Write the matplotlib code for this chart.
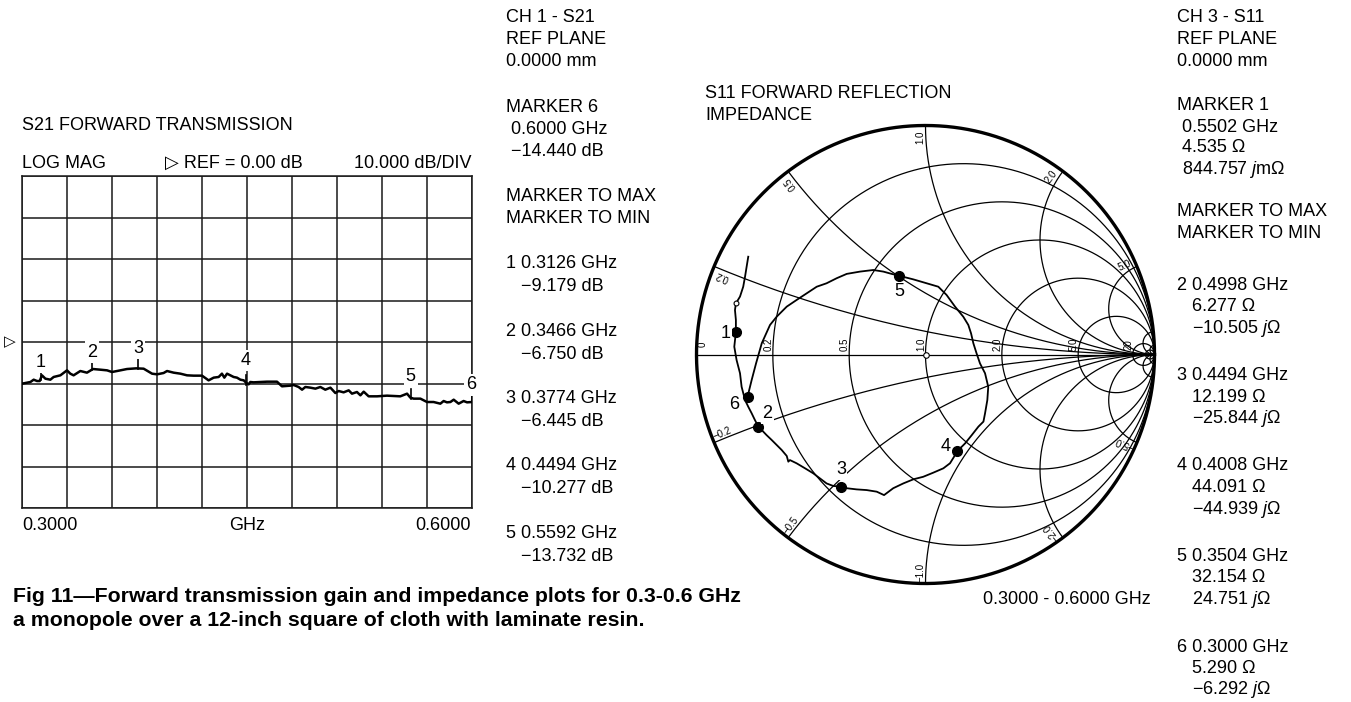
import numpy as np
import matplotlib.pyplot as plt

plt.rcParams['font.family'] = ['Liberation Sans', 'DejaVu Sans']
plt.rcParams['mathtext.fontset'] = 'custom'
plt.rcParams['mathtext.rm'] = 'Liberation Sans'
plt.rcParams['mathtext.it'] = 'Liberation Sans:italic'

# S21 forward transmission trace (GHz, dB)
freq = [0.3000, 0.3056, 0.3078, 0.3100, 0.3118, 0.3133, 0.3156, 0.3189, 0.3211, 0.3256,
        0.3300, 0.3322, 0.3344, 0.3389, 0.3433, 0.3473, 0.3522, 0.3567, 0.3600, 0.3656,
        0.3700, 0.3762, 0.3811, 0.3867, 0.3900, 0.3944, 0.3967, 0.4011, 0.4056, 0.4100,
        0.4144, 0.4200, 0.4244, 0.4278, 0.4311, 0.4333, 0.4349, 0.4367, 0.4389, 0.4411,
        0.4433, 0.4456, 0.4478, 0.4496, 0.4511, 0.4522, 0.4544, 0.4633, 0.4700, 0.4733,
        0.4789, 0.4811, 0.4844, 0.4867, 0.4889, 0.4922, 0.4956, 0.4989, 0.5022, 0.5056,
        0.5089, 0.5111, 0.5144, 0.5178, 0.5200, 0.5233, 0.5256, 0.5278, 0.5311, 0.5367,
        0.5433, 0.5478, 0.5522, 0.5556, 0.5567, 0.5589, 0.5611, 0.5656, 0.5700, 0.5744,
        0.5789, 0.5811, 0.5833, 0.5856, 0.5878, 0.5911, 0.5944, 0.5967, 0.6000]
s21_db = [-10.04, -9.64, -9.08, -9.40, -9.40, -8.03, -8.84, -9.08, -8.43, -8.03,
          -6.83, -7.63, -8.03, -6.99, -7.39, -6.51, -6.67, -6.83, -7.23, -6.83,
          -6.51, -6.35, -6.43, -7.63, -7.79, -7.47, -6.99, -7.39, -7.63, -8.03,
          -8.11, -8.11, -9.24, -8.59, -8.43, -7.63, -8.59, -7.63, -8.03, -8.43,
          -8.59, -9.08, -9.24, -9.88, -10.20, -9.64, -9.72, -9.56, -9.56, -10.68,
          -10.52, -10.36, -10.84, -11.49, -10.84, -11.00, -11.24, -10.84, -11.49, -11.00,
          -12.29, -11.81, -12.13, -11.65, -12.45, -12.05, -12.85, -11.97, -13.09, -13.09,
          -12.93, -13.01, -13.09, -12.61, -12.45, -13.41, -13.65, -13.65, -14.46, -14.46,
          -14.86, -14.22, -14.54, -14.46, -13.90, -14.86, -14.22, -14.54, -14.46]
s21_marker_freq = [0.3126, 0.3466, 0.3774, 0.4494, 0.5592, 0.6000]
s21_marker_db = [-9.179, -6.750, -6.445, -10.277, -13.732, -14.440]

# S11 trace as reflection coefficient (real, imag), starting at 0.3 GHz
gam_re = [-0.777, -0.759, -0.740, -0.715, -0.679, -0.650, -0.606, -0.563, -0.519, -0.475,
          -0.432, -0.388, -0.344, -0.286, -0.228, -0.184, -0.148, -0.116, -0.053, 0.005,
          0.056, 0.092, 0.129, 0.165, 0.187, 0.199, 0.209, 0.223, 0.238, 0.260,
          0.274, 0.270, 0.260, 0.253, 0.231, 0.202, 0.173, 0.151, 0.139, 0.125,
          0.107, 0.078, 0.034, -0.010, -0.053, -0.097, -0.141, -0.181, -0.213, -0.257,
          -0.301, -0.344, -0.369, -0.403, -0.432, -0.461, -0.490, -0.526, -0.563, -0.592,
          -0.599, -0.606, -0.628, -0.650, -0.672, -0.694, -0.715, -0.730, -0.745, -0.759,
          -0.774, -0.788, -0.803, -0.810, -0.825, -0.835, -0.828, -0.828, -0.832, -0.828,
          -0.810, -0.796, -0.788, -0.781, -0.774]
gam_im = [-0.184, -0.111, -0.039, 0.049, 0.129, 0.165, 0.209, 0.238, 0.267, 0.296,
          0.311, 0.333, 0.352, 0.362, 0.369, 0.362, 0.352, 0.344, 0.328, 0.311,
          0.296, 0.260, 0.209, 0.165, 0.129, 0.092, 0.049, 0.005, -0.039, -0.082,
          -0.141, -0.199, -0.257, -0.293, -0.315, -0.352, -0.388, -0.410, -0.420, -0.446,
          -0.475, -0.497, -0.516, -0.534, -0.545, -0.563, -0.584, -0.614, -0.599, -0.592,
          -0.589, -0.584, -0.577, -0.574, -0.563, -0.541, -0.519, -0.497, -0.475, -0.461,
          -0.468, -0.443, -0.417, -0.395, -0.373, -0.352, -0.330, -0.315, -0.286, -0.257,
          -0.228, -0.199, -0.141, -0.082, -0.024, 0.034, 0.098, 0.151, 0.194, 0.223,
          0.253, 0.296, 0.340, 0.384, 0.427]
s11_marker_idx = [76, 67, 52, 38, 17, 0]   # markers 1..6
s11_stim_idx = 79

r_vals = [0.2, 0.5, 1.0, 2.0, 5.0, 20.0, 50.0]
x_vals = [0.2, 0.5, 1.0, 2.0, 5.0, 20.0, 50.0]
r_labels = ['0', '0.2', '0.5', '1.0', '2.0', '5.0', '20']
x_labels = ['0.2', '0.5', '1.0', '2.0', '5.0']

s11_freq = ['0.5502', '0.4998', '0.4494', '0.4008', '0.3504', '0.3000']
s11_res = ['4.535', '6.277', '12.199', '44.091', '32.154', '5.290']
s11_reac = ['844.757', '\u221210.505', '\u221225.844', '\u221244.939', '24.751', '\u22126.292']

W, H = 1351, 702
fig = plt.figure(figsize=(W / 100, H / 100), dpi=100)
FS = 13.0


def T(x, y, s, **kw):
    kw.setdefault('fontsize', FS)
    kw.setdefault('va', 'center')
    fig.text(x / W, 1 - y / H, s, **kw)


# ---- left: log mag grid ----
ax = fig.add_axes([22 / W, 1 - 508 / H, 450 / W, 332 / H])
ax.plot(freq, s21_db, color='black', lw=1.8, zorder=3)
ax.set_xlim(0.3, 0.6)
ax.set_ylim(-40, 40)
ax.set_xticks(np.linspace(0.3, 0.6, 11))
ax.set_yticks(np.arange(-40, 41, 10))
ax.grid(True, color='#1a1a1a', lw=1.1)
ax.tick_params(length=0, labelbottom=False, labelleft=False)
for s in ax.spines.values():
    s.set_linewidth(1.1)
    s.set_color('#1a1a1a')

lab_off = [18, 18, 20, 24, 22, 17]
for i, (f, d) in enumerate(zip(s21_marker_freq, s21_marker_db)):
    ax.plot([f, f], [d, d + 2.4], color='black', lw=1.2, zorder=3)
    ax.annotate(str(i + 1), (f, d), xytext=(-1 if i == 5 else 0, lab_off[i]),
                textcoords='offset pixels', ha='center', va='center', fontsize=FS,
                bbox=dict(boxstyle='square,pad=0.12', fc='white', ec='none'),
                zorder=4, annotation_clip=False)
ax.annotate('\u25b7', (0.3, 0), xytext=(-12, 0), textcoords='offset pixels',
            ha='center', va='center', fontsize=11, annotation_clip=False)

T(22, 125, 'S21 FORWARD TRANSMISSION')
T(22, 163, 'LOG MAG')
T(165, 163, '\u25b7 REF = 0.00 dB')
T(471, 163, '10.000 dB/DIV', ha='right')
T(22, 525, '0.3000')
T(247, 525, 'GHz', ha='center')
T(471, 525, '0.6000', ha='right')

# ---- right: Smith chart ----
cx, cy, R = 925.5, 354.5, 229
ax2 = fig.add_axes([(cx - R) / W, 1 - (cy + R) / H, 2 * R / W, 2 * R / H])
ax2.set_xlim(-1, 1)
ax2.set_ylim(-1, 1)
ax2.axis('off')

t = np.linspace(0, 2 * np.pi, 600)
ax2.plot(np.cos(t), np.sin(t), color='black', lw=2.4, clip_on=False)
ax2.plot([-1, 1], [0, 0], color='black', lw=0.9)
span = np.concatenate([np.linspace(0, 5, 800), np.logspace(0.7, 5, 500)])
for r in r_vals:
    xx = np.concatenate([-span[::-1], span])
    g = (r + 1j * xx - 1) / (r + 1j * xx + 1)
    ax2.plot(g.real, g.imag, color='black', lw=0.9)
for x in x_vals:
    for sg in (1, -1):
        z = span + 1j * sg * x
        g = (z - 1) / (z + 1)
        ax2.plot(g.real, g.imag, color='black', lw=0.9)

for lab, r in zip(r_labels, [0.0] + r_vals[:6]):
    gx = (r - 1) / (r + 1)
    ax2.text(max(gx - 0.02, -0.975), 0.045, lab, rotation=90, fontsize=7,
             ha='center', va='center')
for lab, x in zip(x_labels, x_vals[:5]):
    th = np.pi - 2 * np.arctan(x)
    a = th + 0.025
    ax2.text(0.95 * np.cos(a), 0.95 * np.sin(a), lab, rotation=np.degrees(th),
             rotation_mode='anchor', fontsize=7, ha='center', va='center')
    ax2.text(0.95 * np.cos(-a), 0.95 * np.sin(-a), '\u2212' + lab,
             rotation=np.degrees(-th) + 180, rotation_mode='anchor',
             fontsize=7, ha='center', va='center')
ax2.plot([0], [0], 'o', mfc='white', mec='black', ms=4, mew=0.8)

ax2.plot(gam_re, gam_im, color='black', lw=1.3, zorder=3)
ax2.plot(gam_re[s11_stim_idx], gam_im[s11_stim_idx], 'o', mfc='white', mec='black',
         ms=3.5, mew=0.8, zorder=4)
s11_lab_off = [(-10, -1), (9, 13), (0, 17), (-12, 4), (0, -16), (-13, -8)]
for i, k in enumerate(s11_marker_idx):
    ax2.plot(gam_re[k], gam_im[k], 'o', color='black', ms=7, zorder=5)
    ax2.annotate(str(i + 1), (gam_re[k], gam_im[k]), xytext=s11_lab_off[i],
                 textcoords='offset pixels', ha='center', va='center', fontsize=FS,
                 bbox=dict(boxstyle='square,pad=0.08', fc='white', ec='none'), zorder=6)

T(705, 93, 'S11 FORWARD REFLECTION')
T(705, 115, 'IMPEDANCE')
T(983, 599, '0.3000 - 0.6000 GHz')

# ---- S21 marker readout ----
x0 = 506
T(x0, 18, 'CH 1 - S21')
T(x0, 40, 'REF PLANE')
T(x0, 62, '0.0000 mm')
T(x0, 107, 'MARKER 6')
T(x0, 129, ' 0.6000 GHz')
T(x0, 151, ' \u221214.440 dB')
T(x0, 196, 'MARKER TO MAX')
T(x0, 218, 'MARKER TO MIN')
for i, (f, d) in enumerate(zip(s21_marker_freq[:5], s21_marker_db[:5])):
    y0 = 264 + 67.3 * i
    T(x0, y0, '%d %.4f GHz' % (i + 1, f))
    T(x0 + 15, y0 + 23, ('%.3f dB' % d).replace('-', '\u2212'))

# ---- S11 marker readout ----
x1 = 1177
T(x1, 18, 'CH 3 - S11')
T(x1, 40, 'REF PLANE')
T(x1, 62, '0.0000 mm')
T(x1, 105, 'MARKER 1')
T(x1, 127, ' ' + s11_freq[0] + ' GHz')
T(x1, 148, ' ' + s11_res[0] + ' \u03a9')
T(x1, 170, ' ' + s11_reac[0] + ' $j$m\u03a9')
T(x1, 212, 'MARKER TO MAX')
T(x1, 234, 'MARKER TO MIN')
for i in range(1, 6):
    y0 = 285 + 90.5 * (i - 1)
    T(x1, y0, '%d %s GHz' % (i + 1, s11_freq[i]))
    T(x1 + 15, y0 + 21.5, s11_res[i] + ' \u03a9')
    T(x1 + 15, y0 + 43, s11_reac[i] + ' $j$\u03a9')

# ---- caption ----
cap = dict(fontsize=15.3, fontweight='bold')
T(13, 597, 'Fig 11\u2014Forward transmission gain and impedance plots for 0.3-0.6 GHz', **cap)
T(13, 620, 'a monopole over a 12-inch square of cloth with laminate resin.', **cap)

fig.savefig('out.png', dpi=100)
